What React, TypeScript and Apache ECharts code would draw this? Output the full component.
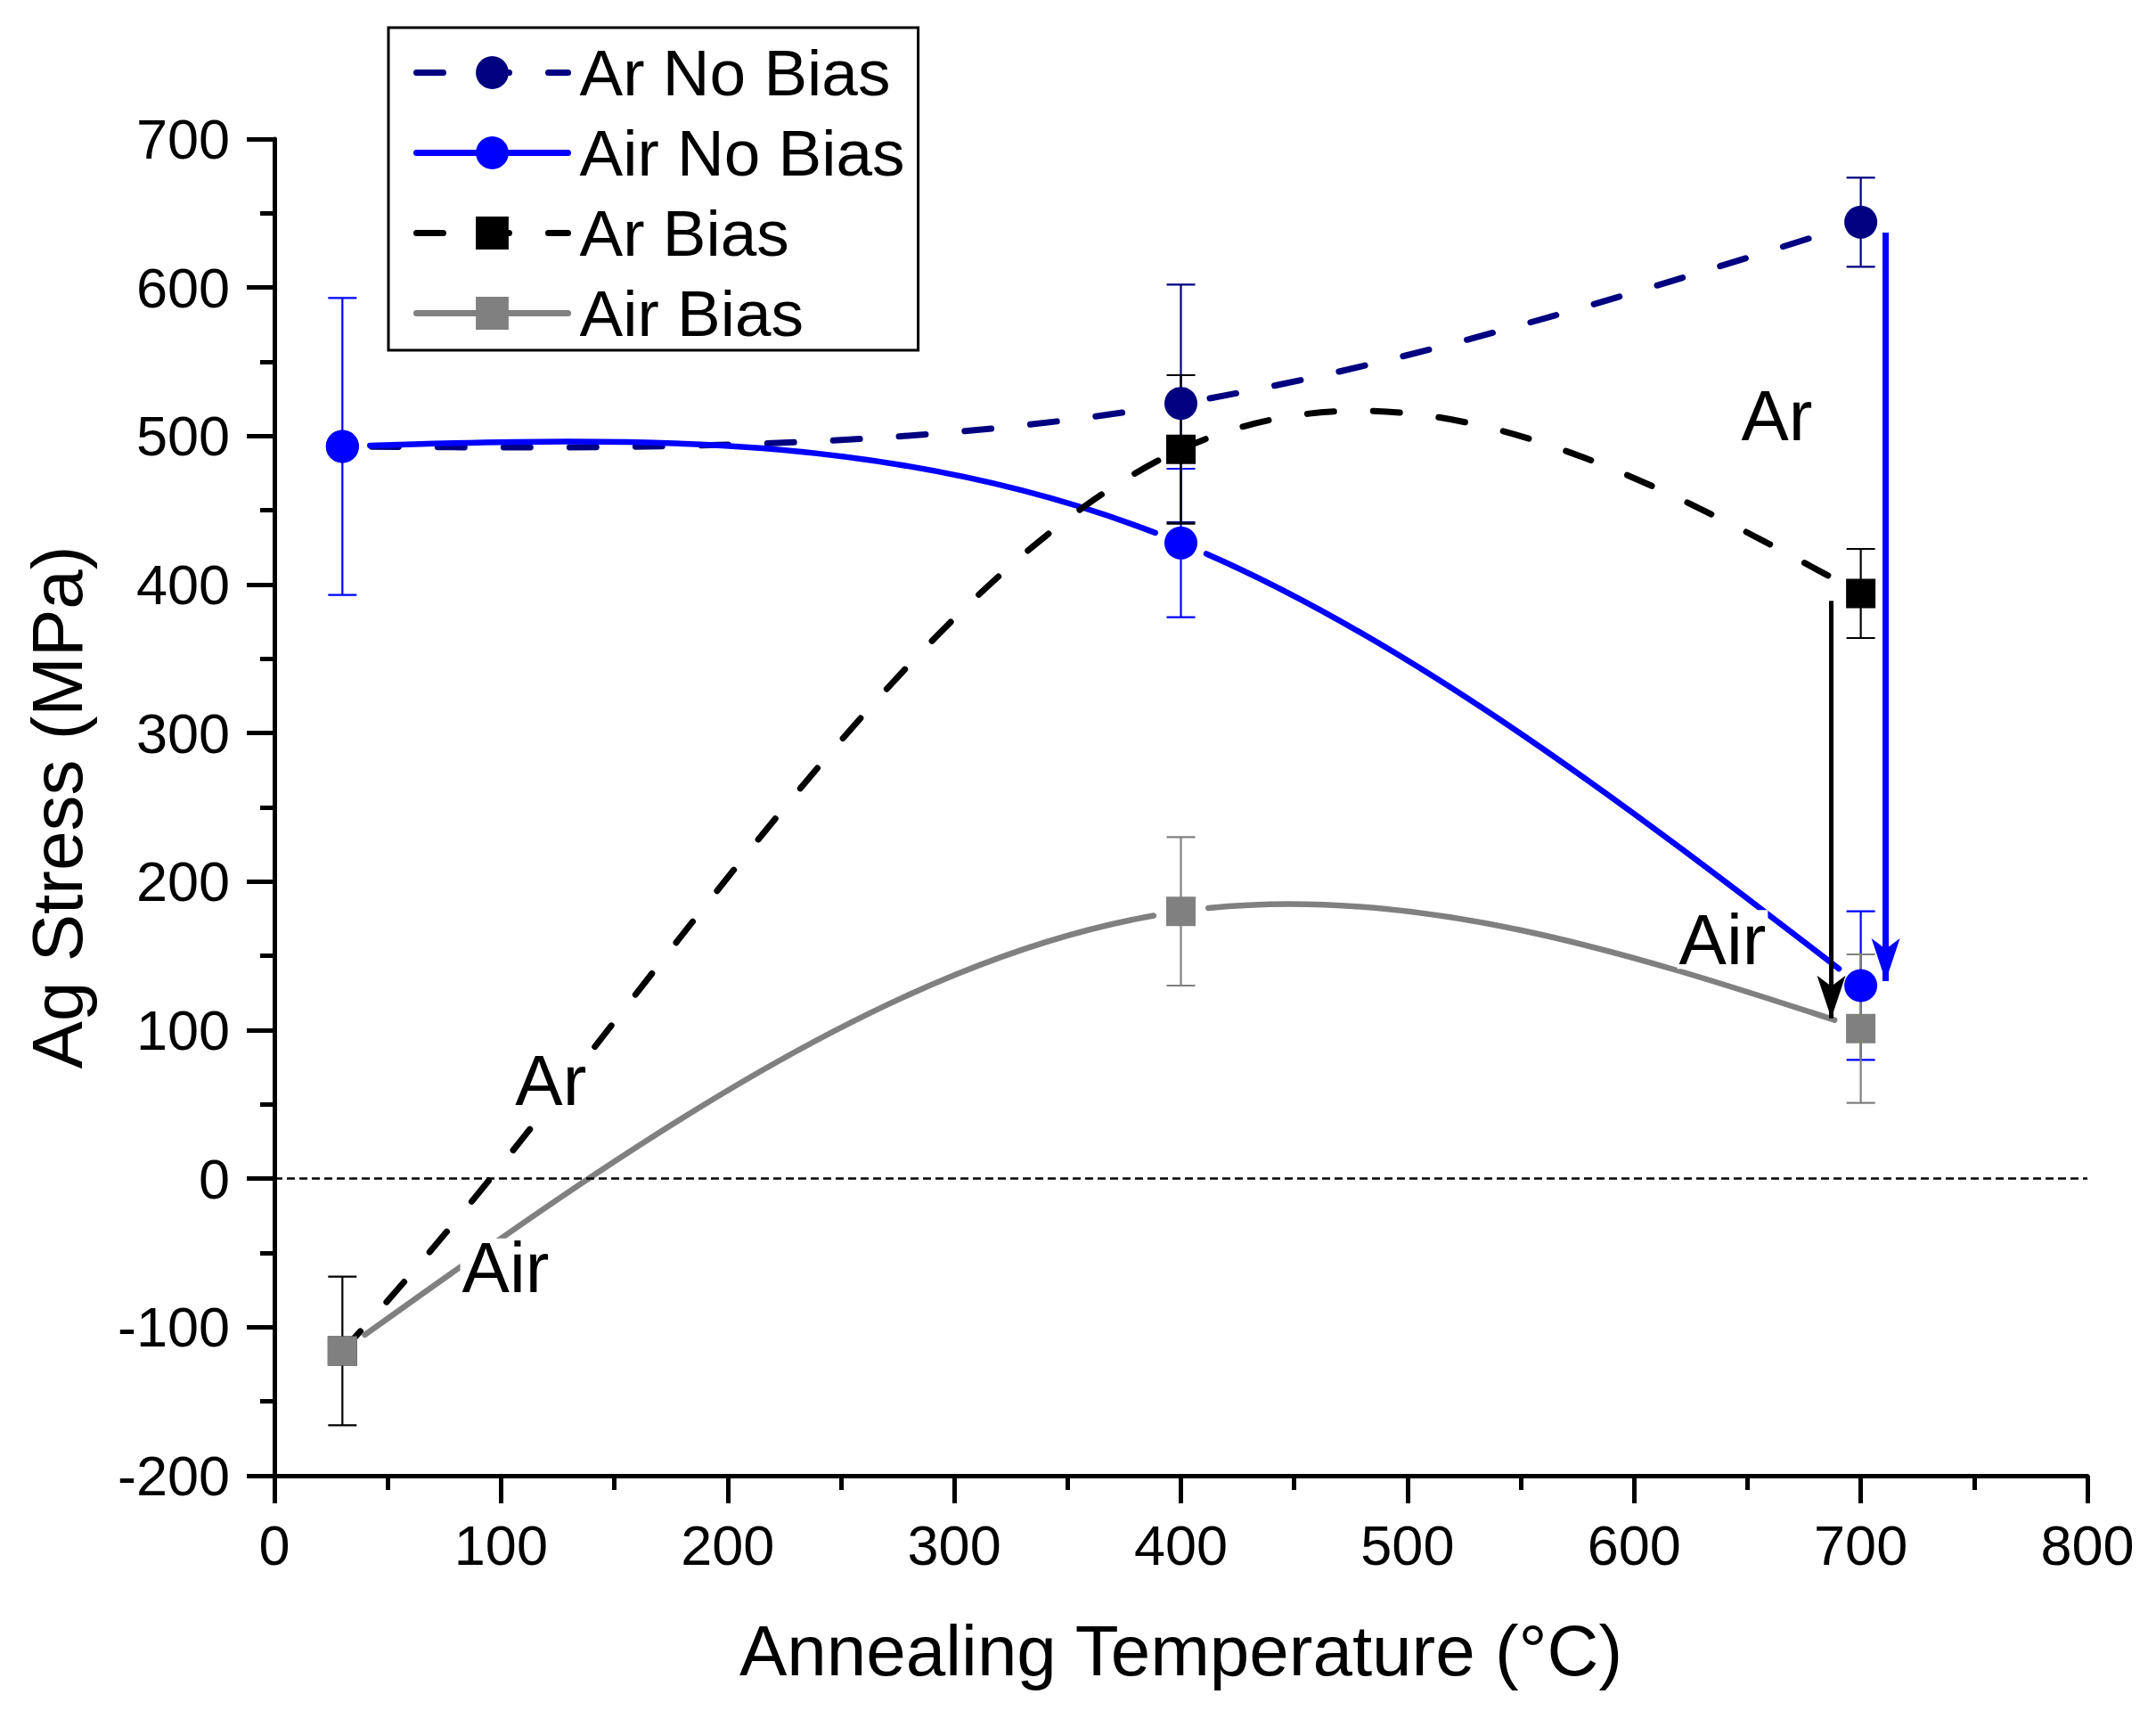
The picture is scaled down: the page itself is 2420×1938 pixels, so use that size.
import React, { useEffect, useRef } from "react";
import * as echarts from "echarts";

const xVals = [30, 400, 700];
const arNoBias = [493, 522, 644];
const arNoBiasErr = [0, 80, 30];
const airNoBias = [493, 428, 130];
const airNoBiasErr = [100, 50, 50];
const arBias = [-116, 491, 394];
const arBiasErr = [50, 50, 30];
const airBias = [-116, 180, 101];
const airBiasErr = [0, 50, 50];

const seriesNames = ["Ar No Bias", "Air No Bias", "Ar Bias", "Air Bias"];
const seriesColors = ["#000080", "#0000FF", "#000000", "#808080"];

const annotText = ["Ar", "Air", "Ar", "Air"];
const annotX = [663, 639, 122, 102];
const annotY = [514, 161, 66, -60];

const arrowX = [711, 687];
const arrowFrom = [637, 389];
const arrowTo = [133, 108];
const arrowColors = ["#0000FF", "#000000"];
const arrowWidths = [7, 5];

const FONT = "'Liberation Sans', Arial, sans-serif";
const DASH = [30, 44];

function pairs(ys: number[]) {
  return xVals.map((x, i) => [x, ys[i]]);
}

function errData(ys: number[], errs: number[]) {
  const out: number[][] = [];
  xVals.forEach((x, i) => {
    if (errs[i] > 0) out.push([x, ys[i] - errs[i], ys[i] + errs[i]]);
  });
  return out;
}

// cubic spline second derivatives; start either natural or clamped to the first chord slope
function splineM(xs: number[], ys: number[], clampStart: boolean) {
  const n = xs.length;
  const h: number[] = [];
  const s: number[] = [];
  for (let i = 0; i < n - 1; i++) {
    h.push(xs[i + 1] - xs[i]);
    s.push((ys[i + 1] - ys[i]) / h[i]);
  }
  const a = new Array(n).fill(0), b = new Array(n).fill(0), c = new Array(n).fill(0), d = new Array(n).fill(0);
  if (clampStart) {
    b[0] = 2 * h[0]; c[0] = h[0]; d[0] = 0;
  } else {
    b[0] = 1; c[0] = 0; d[0] = 0;
  }
  for (let i = 1; i < n - 1; i++) {
    a[i] = h[i - 1];
    b[i] = 2 * (h[i - 1] + h[i]);
    c[i] = h[i];
    d[i] = 6 * (s[i] - s[i - 1]);
  }
  a[n - 1] = 0; b[n - 1] = 1; d[n - 1] = 0;
  for (let i = 1; i < n; i++) {
    const w = a[i] / b[i - 1];
    b[i] -= w * c[i - 1];
    d[i] -= w * d[i - 1];
  }
  const M = new Array(n).fill(0);
  M[n - 1] = d[n - 1] / b[n - 1];
  for (let i = n - 2; i >= 0; i--) M[i] = (d[i] - c[i] * M[i + 1]) / b[i];
  return M;
}

type P = number[];
const lerp = (p: P, q: P, t: number): P => [p[0] + (q[0] - p[0]) * t, p[1] + (q[1] - p[1]) * t];
function bez(p0: P, p1: P, p2: P, p3: P, t: number): P {
  const a = lerp(p0, p1, t), b = lerp(p1, p2, t), c = lerp(p2, p3, t);
  const d = lerp(a, b, t), e = lerp(b, c, t);
  return lerp(d, e, t);
}
function splitLeft(p0: P, p1: P, p2: P, p3: P, t: number): P[] {
  const a = lerp(p0, p1, t), b = lerp(p1, p2, t), c = lerp(p2, p3, t);
  const d = lerp(a, b, t), e = lerp(b, c, t);
  return [p0, a, d, lerp(d, e, t)];
}
function splitRight(p0: P, p1: P, p2: P, p3: P, t: number): P[] {
  const a = lerp(p0, p1, t), b = lerp(p1, p2, t), c = lerp(p2, p3, t);
  const d = lerp(a, b, t), e = lerp(b, c, t);
  return [lerp(d, e, t), e, c, p3];
}
const dist = (p: P, q: P) => Math.hypot(p[0] - q[0], p[1] - q[1]);

function findT(p: P[], anchor: P, gap: number, fromStart: boolean) {
  let lo = fromStart ? 0 : 0.5;
  let hi = fromStart ? 0.5 : 1;
  for (let k = 0; k < 40; k++) {
    const mid = (lo + hi) / 2;
    const dd = dist(bez(p[0], p[1], p[2], p[3], mid), anchor);
    if (fromStart) {
      if (dd < gap) lo = mid; else hi = mid;
    } else {
      if (dd < gap) hi = mid; else lo = mid;
    }
  }
  return (lo + hi) / 2;
}

function curveSeries(name: string, ys: number[], color: string, width: number, dashed: boolean, gap: number, clampStart: boolean) {
  const M = splineM(xVals, ys, clampStart);
  return {
    type: "custom",
    name: name + " curve",
    data: pairs(ys),
    encode: { x: 0, y: 1 },
    silent: true,
    clip: false,
    renderItem: (params: any, api: any) => {
      const i = params.dataIndex;
      if (i >= xVals.length - 1) return { type: "group", children: [] };
      const x0 = api.value(0), y0 = api.value(1);
      const x1 = xVals[i + 1], y1 = ys[i + 1];
      const h = x1 - x0;
      const s = (y1 - y0) / h;
      const d0 = s - (h * (2 * M[i] + M[i + 1])) / 6;
      const d1 = s + (h * (M[i] + 2 * M[i + 1])) / 6;
      let p: P[] = [
        api.coord([x0, y0]),
        api.coord([x0 + h / 3, y0 + (d0 * h) / 3]),
        api.coord([x1 - h / 3, y1 - (d1 * h) / 3]),
        api.coord([x1, y1]),
      ];
      if (gap > 0) {
        const t0 = findT(p, p[0], gap, true);
        const t1 = findT(p, p[3], gap, false);
        const left = splitLeft(p[0], p[1], p[2], p[3], t1);
        p = splitRight(left[0], left[1], left[2], left[3], t0 / t1);
      }
      return {
        type: "bezierCurve",
        shape: {
          x1: p[0][0], y1: p[0][1],
          cpx1: p[1][0], cpy1: p[1][1],
          cpx2: p[2][0], cpy2: p[2][1],
          x2: p[3][0], y2: p[3][1],
        },
        style: {
          stroke: color,
          lineWidth: width,
          fill: null,
          lineCap: "round",
          lineDash: dashed ? DASH : null,
        },
      };
    },
  };
}

function errSeries(name: string, ys: number[], errs: number[], color: string) {
  return {
    type: "custom",
    name: name + " err",
    data: errData(ys, errs),
    encode: { x: 0, y: [1, 2] },
    clip: false,
    silent: true,
    renderItem: (params: any, api: any) => {
      const x = api.value(0);
      const lo = api.value(1);
      const hi = api.value(2);
      const top = api.coord([x, hi]);
      const bot = api.coord([x, lo]);
      const hw = 16;
      const st = { stroke: color, lineWidth: 2.2 };
      return {
        type: "group",
        children: [
          { type: "line", shape: { x1: top[0], y1: top[1], x2: bot[0], y2: bot[1] }, style: st },
          { type: "line", shape: { x1: top[0] - hw, y1: top[1], x2: top[0] + hw, y2: top[1] }, style: st },
          { type: "line", shape: { x1: bot[0] - hw, y1: bot[1], x2: bot[0] + hw, y2: bot[1] }, style: st },
        ],
      };
    },
  };
}

function markerSeries(name: string, ys: number[], color: string, symbol: string, size: number) {
  return {
    type: "line",
    name,
    data: pairs(ys),
    symbol,
    symbolSize: size,
    showAllSymbol: true,
    itemStyle: { color, opacity: 1 },
    lineStyle: { color, width: 0, opacity: 0 },
    emphasis: { disabled: true },
    silent: true,
  };
}

export default function App() {
  const ref = useRef<HTMLDivElement>(null);
  useEffect(() => {
    if (!ref.current) return;
    const chart = echarts.init(ref.current, undefined, { renderer: "svg" });
    const axisCommon = {
      axisLine: { onZero: false, lineStyle: { color: "#000", width: 5 } },
      axisTick: { show: true, length: 31, lineStyle: { color: "#000", width: 5 } },
      minorTick: { show: true, splitNumber: 2, length: 16, lineStyle: { color: "#000", width: 5 } },
      splitLine: { show: false },
      nameTextStyle: { fontSize: 80, color: "#000", fontFamily: FONT },
    };
    const annotData = annotText.map((t, i) => [annotX[i], annotY[i], t]);
    const markLineData: any[] = [
      {
        yAxis: 0,
        symbol: "none",
        lineStyle: { color: "#000", width: 2.5, type: [9, 5] },
      },
    ];
    arrowX.forEach((x, i) => {
      markLineData.push([
        { coord: [x, arrowFrom[i]], symbol: "none", lineStyle: { color: arrowColors[i], width: arrowWidths[i], type: "solid" } },
        { coord: [x, arrowTo[i]], symbol: "arrow", symbolSize: [24, 48] },
      ]);
    });
    const legendDashed = [true, false, true, false];
    chart.setOption({
      animation: false,
      backgroundColor: "#fff",
      textStyle: { fontFamily: FONT },
      grid: { left: 308, top: 156, right: 77, bottom: 282, containLabel: false },
      legend: {
        data: seriesNames.map((n, i) => ({
          name: n,
          lineStyle: {
            color: seriesColors[i],
            width: 7,
            opacity: 1,
            type: legendDashed[i] ? DASH : "solid",
            cap: "round",
          },
        })),
        orient: "vertical",
        left: 436,
        top: 31,
        padding: [14, 15, 5, 28],
        borderColor: "#000",
        borderWidth: 3,
        itemWidth: 170,
        itemHeight: 46,
        itemGap: 17,
        selectedMode: false,
        textStyle: { fontSize: 73, color: "#000", fontFamily: FONT, padding: [0, 0, 0, 8] },
      },
      xAxis: {
        type: "value",
        min: 0,
        max: 800,
        interval: 100,
        name: "Annealing Temperature (°C)",
        nameLocation: "middle",
        nameGap: 156,
        axisLabel: { fontSize: 63, color: "#000", margin: 46, fontFamily: FONT },
        ...axisCommon,
      },
      yAxis: {
        type: "value",
        min: -200,
        max: 700,
        interval: 100,
        name: "Ag Stress (MPa)",
        nameLocation: "middle",
        nameGap: 204,
        axisLabel: { fontSize: 63, color: "#000", margin: 50, fontFamily: FONT },
        ...axisCommon,
      },
      series: [
        curveSeries(seriesNames[0], arNoBias, seriesColors[0], 7, true, 33, false),
        markerSeries(seriesNames[0], arNoBias, seriesColors[0], "circle", 37),
        errSeries(seriesNames[0], arNoBias, arNoBiasErr, seriesColors[0]),
        curveSeries(seriesNames[1], airNoBias, seriesColors[1], 6.5, false, 31, false),
        markerSeries(seriesNames[1], airNoBias, seriesColors[1], "circle", 37),
        errSeries(seriesNames[1], airNoBias, airNoBiasErr, seriesColors[1]),
        curveSeries(seriesNames[2], arBias, seriesColors[2], 7, true, 0, true),
        markerSeries(seriesNames[2], arBias, seriesColors[2], "rect", 33),
        errSeries(seriesNames[2], arBias, arBiasErr, seriesColors[2]),
        curveSeries(seriesNames[3], airBias, seriesColors[3], 6.5, false, 31, false),
        markerSeries(seriesNames[3], airBias, seriesColors[3], "rect", 33),
        errSeries(seriesNames[3], airBias, airBiasErr, seriesColors[3]),
        {
          type: "scatter",
          name: "annotations",
          data: annotData,
          encode: { x: 0, y: 1 },
          symbolSize: 0,
          silent: true,
          z: 5,
          itemStyle: { opacity: 1 },
          label: {
            show: true,
            position: "inside",
            formatter: (p: any) => p.value[2],
            fontSize: 80,
            lineHeight: 66,
            color: "#000",
            backgroundColor: "#fff",
            padding: [0, 2],
            opacity: 1,
            fontFamily: FONT,
          },
          markLine: {
            silent: true,
            symbol: ["none", "none"],
            label: { show: false },
            emphasis: { disabled: true },
            data: markLineData,
          },
        },
      ],
    });
    return () => chart.dispose();
  }, []);
  return (
    <div
      ref={ref}
      style={{ position: "fixed", left: 0, top: 0, width: 2420, height: 1938, background: "#fff" }}
    />
  );
}
